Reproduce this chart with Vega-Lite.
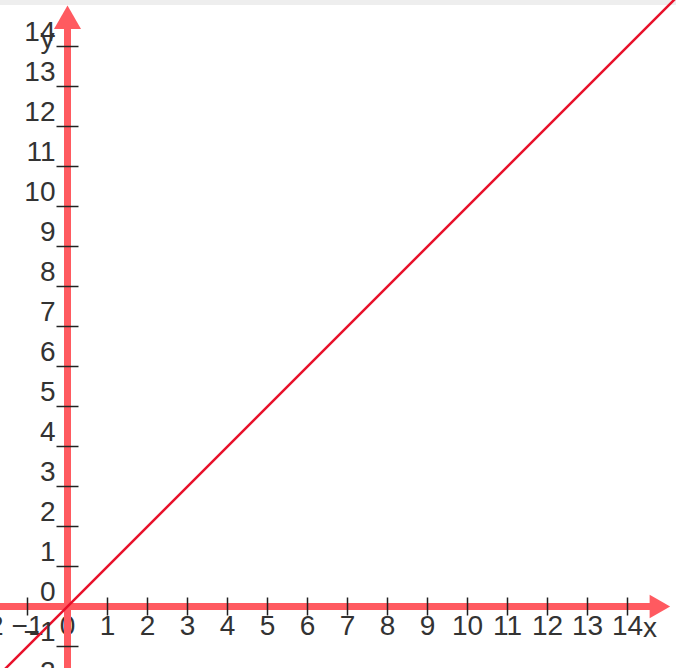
{
  "$schema": "https://vega.github.io/schema/vega-lite/v6.json",
  "width": 676,
  "height": 668,
  "padding": 0,
  "autosize": {"type": "none"},
  "background": "white",
  "config": {"view": {"stroke": null}},
  "datasets": {
    "band": [{"x1": -1.6875, "x2": 15.2125, "y1": 15.04, "y2": 15.1625}],
    "yaxis": [{"x": 0, "y1": -1.6, "y2": 14.6}],
    "xaxis": [{"y": 0, "x1": -1.7, "x2": 14.6}],
    "yarrow": [{"x": 0, "y": 14.73}],
    "xarrow": [{"x": 14.81, "y": 0}],
    "yticks": [{"v": -2}, {"v": -1}, {"v": 1}, {"v": 2}, {"v": 3}, {"v": 4}, {"v": 5}, {"v": 6}, {"v": 7}, {"v": 8}, {"v": 9}, {"v": 10}, {"v": 11}, {"v": 12}, {"v": 13}, {"v": 14}],
    "xticks": [{"v": -2}, {"v": -1}, {"v": 1}, {"v": 2}, {"v": 3}, {"v": 4}, {"v": 5}, {"v": 6}, {"v": 7}, {"v": 8}, {"v": 9}, {"v": 10}, {"v": 11}, {"v": 12}, {"v": 13}, {"v": 14}],
    "ylabels": [{"v": -2}, {"v": -1}, {"v": 0}, {"v": 1}, {"v": 2}, {"v": 3}, {"v": 4}, {"v": 5}, {"v": 6}, {"v": 7}, {"v": 8}, {"v": 9}, {"v": 10}, {"v": 11}, {"v": 12}, {"v": 13}, {"v": 14}],
    "xlabels": [{"v": -2}, {"v": -1}, {"v": 0}, {"v": 1}, {"v": 2}, {"v": 3}, {"v": 4}, {"v": 5}, {"v": 6}, {"v": 7}, {"v": 8}, {"v": 9}, {"v": 10}, {"v": 11}, {"v": 12}, {"v": 13}, {"v": 14}],
    "line": [{"x": -1.8, "y": -1.8}, {"x": 15.3, "y": 15.3}],
    "names": [{"x": 14.56, "y": -0.7625, "t": "x"}, {"x": -0.5, "y": 13.975, "t": "y"}]
  },
  "layer": [
    {
      "data": {"name": "band"},
      "mark": {"type": "rect", "color": "#eeeeee"},
      "encoding": {
        "x": {"field": "x1", "type": "quantitative", "scale": {"domain": [-1.6875, 15.2125], "nice": false, "zero": false}, "axis": null},
        "x2": {"field": "x2"},
        "y": {"field": "y1", "type": "quantitative", "scale": {"domain": [-1.5375, 15.1625], "nice": false, "zero": false}, "axis": null},
        "y2": {"field": "y2"}
      }
    },
    {
      "data": {"name": "xlabels"},
      "mark": {"type": "text", "align": "center", "baseline": "alphabetic", "dy": 28, "font": "Liberation Sans", "fontSize": 28, "color": "#333333"},
      "encoding": {
        "y": {"datum": 0, "type": "quantitative"},
        "x": {"field": "v", "type": "quantitative"},
        "text": {"field": "v", "type": "quantitative"}
      }
    },
    {
      "data": {"name": "yaxis"},
      "mark": {"type": "rule", "color": "#ff5a60", "strokeWidth": 7},
      "encoding": {
        "x": {"field": "x", "type": "quantitative"},
        "y": {"field": "y1", "type": "quantitative"},
        "y2": {"field": "y2"}
      }
    },
    {
      "data": {"name": "xaxis"},
      "mark": {"type": "rule", "color": "#ff5a60", "strokeWidth": 7},
      "encoding": {
        "y": {"field": "y", "type": "quantitative"},
        "x": {"field": "x1", "type": "quantitative"},
        "x2": {"field": "x2"}
      }
    },
    {
      "data": {"name": "yarrow"},
      "mark": {"type": "point", "shape": "triangle-up", "filled": true, "color": "#ff5a60", "opacity": 1, "size": 729},
      "encoding": {
        "x": {"field": "x", "type": "quantitative"},
        "y": {"field": "y", "type": "quantitative"}
      }
    },
    {
      "data": {"name": "xarrow"},
      "mark": {"type": "point", "shape": "triangle-right", "filled": true, "color": "#ff5a60", "opacity": 1, "size": 560},
      "encoding": {
        "x": {"field": "x", "type": "quantitative"},
        "y": {"field": "y", "type": "quantitative"}
      }
    },
    {
      "data": {"name": "yticks"},
      "mark": {"type": "tick", "orient": "horizontal", "color": "#222222", "size": 22, "thickness": 1.5, "opacity": 1},
      "encoding": {
        "x": {"datum": 0, "type": "quantitative"},
        "y": {"field": "v", "type": "quantitative"}
      }
    },
    {
      "data": {"name": "xticks"},
      "mark": {"type": "tick", "orient": "vertical", "color": "#222222", "size": 18, "thickness": 1.5, "opacity": 1},
      "encoding": {
        "y": {"datum": 0, "type": "quantitative"},
        "x": {"field": "v", "type": "quantitative"}
      }
    },
    {
      "data": {"name": "line"},
      "mark": {"type": "line", "color": "#e8102a", "strokeWidth": 2.5, "clip": true},
      "encoding": {
        "x": {"field": "x", "type": "quantitative"},
        "y": {"field": "y", "type": "quantitative"}
      }
    },
    {
      "data": {"name": "ylabels"},
      "mark": {"type": "text", "align": "right", "baseline": "alphabetic", "dx": -12, "dy": -6, "font": "Liberation Sans", "fontSize": 28, "color": "#333333"},
      "encoding": {
        "x": {"datum": 0, "type": "quantitative"},
        "y": {"field": "v", "type": "quantitative"},
        "text": {"field": "v", "type": "quantitative"}
      }
    },
    {
      "data": {"name": "names"},
      "mark": {"type": "text", "align": "center", "baseline": "alphabetic", "font": "Liberation Sans", "fontSize": 28, "color": "#333333"},
      "encoding": {
        "x": {"field": "x", "type": "quantitative"},
        "y": {"field": "y", "type": "quantitative"},
        "text": {"field": "t", "type": "nominal"}
      }
    }
  ]
}
